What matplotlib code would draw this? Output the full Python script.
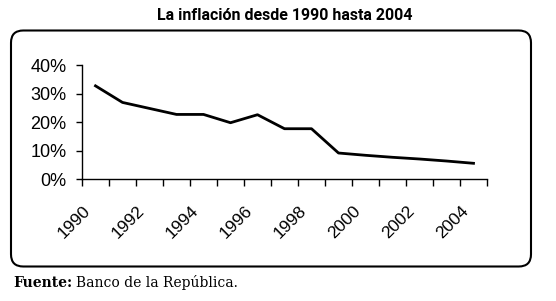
#coding=utf-8
import matplotlib
matplotlib.use("Agg")
import matplotlib.pyplot as plt
import matplotlib.transforms as mtransforms
from matplotlib.patches import FancyBboxPatch
from matplotlib.ticker import FuncFormatter

# inflacion anual (%)
years = [1990, 1991, 1992, 1993, 1994, 1995, 1996, 1997,
         1998, 1999, 2000, 2001, 2002, 2003, 2004]
inflation = [32.7, 26.9, 24.8, 22.7, 22.7, 19.8, 22.6, 17.7,
             17.7, 9.2, 8.4, 7.7, 7.1, 6.4, 5.6]
year_labels = ["1990", "1992", "1994", "1996", "1998", "2000", "2002", "2004"]
y_ticks = [0, 10, 20, 30, 40]

plt.rcParams['font.family'] = ['Liberation Sans', 'DejaVu Sans']

fig = plt.figure(figsize=(5.56, 3.01), dpi=100)

# marco redondeado
box = FancyBboxPatch((11 / 556, 1 - 266.5 / 301), 520 / 556, 236 / 301,
                     boxstyle="round,pad=0,rounding_size=0.022",
                     transform=fig.transFigure, fill=False,
                     edgecolor="black", linewidth=1.5, mutation_aspect=556 / 301)
fig.patches.append(box)

fig.text(0.513, 1 - 16 / 301, "La inflación desde 1990 hasta 2004",
         ha="center", va="center", fontsize=11.5, fontweight="bold",
         family=["Roboto", "DejaVu Sans"])

ax = fig.add_axes([82 / 556, 1 - 179.3 / 301, 405 / 556, 114.3 / 301])
x = list(range(len(years)))
ax.plot(x, inflation, color="black", linewidth=2)

ax.set_xlim(-0.5, len(years) - 0.5)
ax.set_ylim(0, 40)
ax.set_yticks(y_ticks)
ax.yaxis.set_major_formatter(FuncFormatter(lambda v, p: "%d%%" % v))

# marcas entre categorias, etiquetas cada dos anos
ax.set_xticks([i - 0.5 for i in range(len(years) + 1)])
ax.set_xticklabels([])
ax.set_xticks(list(range(0, len(years), 2)), minor=True)
ax.set_xticklabels(year_labels, minor=True, rotation=45, ha="right",
                   va="top", rotation_mode="anchor", fontsize=12.5)
ax.tick_params(axis="x", which="minor", length=0, pad=17)
ax.tick_params(axis="x", which="major", length=5, width=1, direction="out")
ax.tick_params(axis="y", length=4, width=1, direction="out", pad=7, labelsize=13)
offset = mtransforms.ScaledTranslation(-13 / 100, 0, fig.dpi_scale_trans)
for lab in ax.get_xticklabels(minor=True):
    lab.set_transform(lab.get_transform() + offset)

for s in ["top", "right"]:
    ax.spines[s].set_visible(False)
for s in ["left", "bottom"]:
    ax.spines[s].set_linewidth(1)
ax.patch.set_visible(False)

src = fig.text(13 / 556, 1 - 283 / 301, "Fuente:", ha="left", va="center",
               fontsize=10, fontweight="bold", family="DejaVu Serif")
fig.canvas.draw()
bb = src.get_window_extent()
fig.text((bb.x1 + 4) / 556, 1 - 283 / 301, "Banco de la República.", ha="left",
         va="center", fontsize=10, family="DejaVu Serif")

fig.savefig("out.png", dpi=100)
